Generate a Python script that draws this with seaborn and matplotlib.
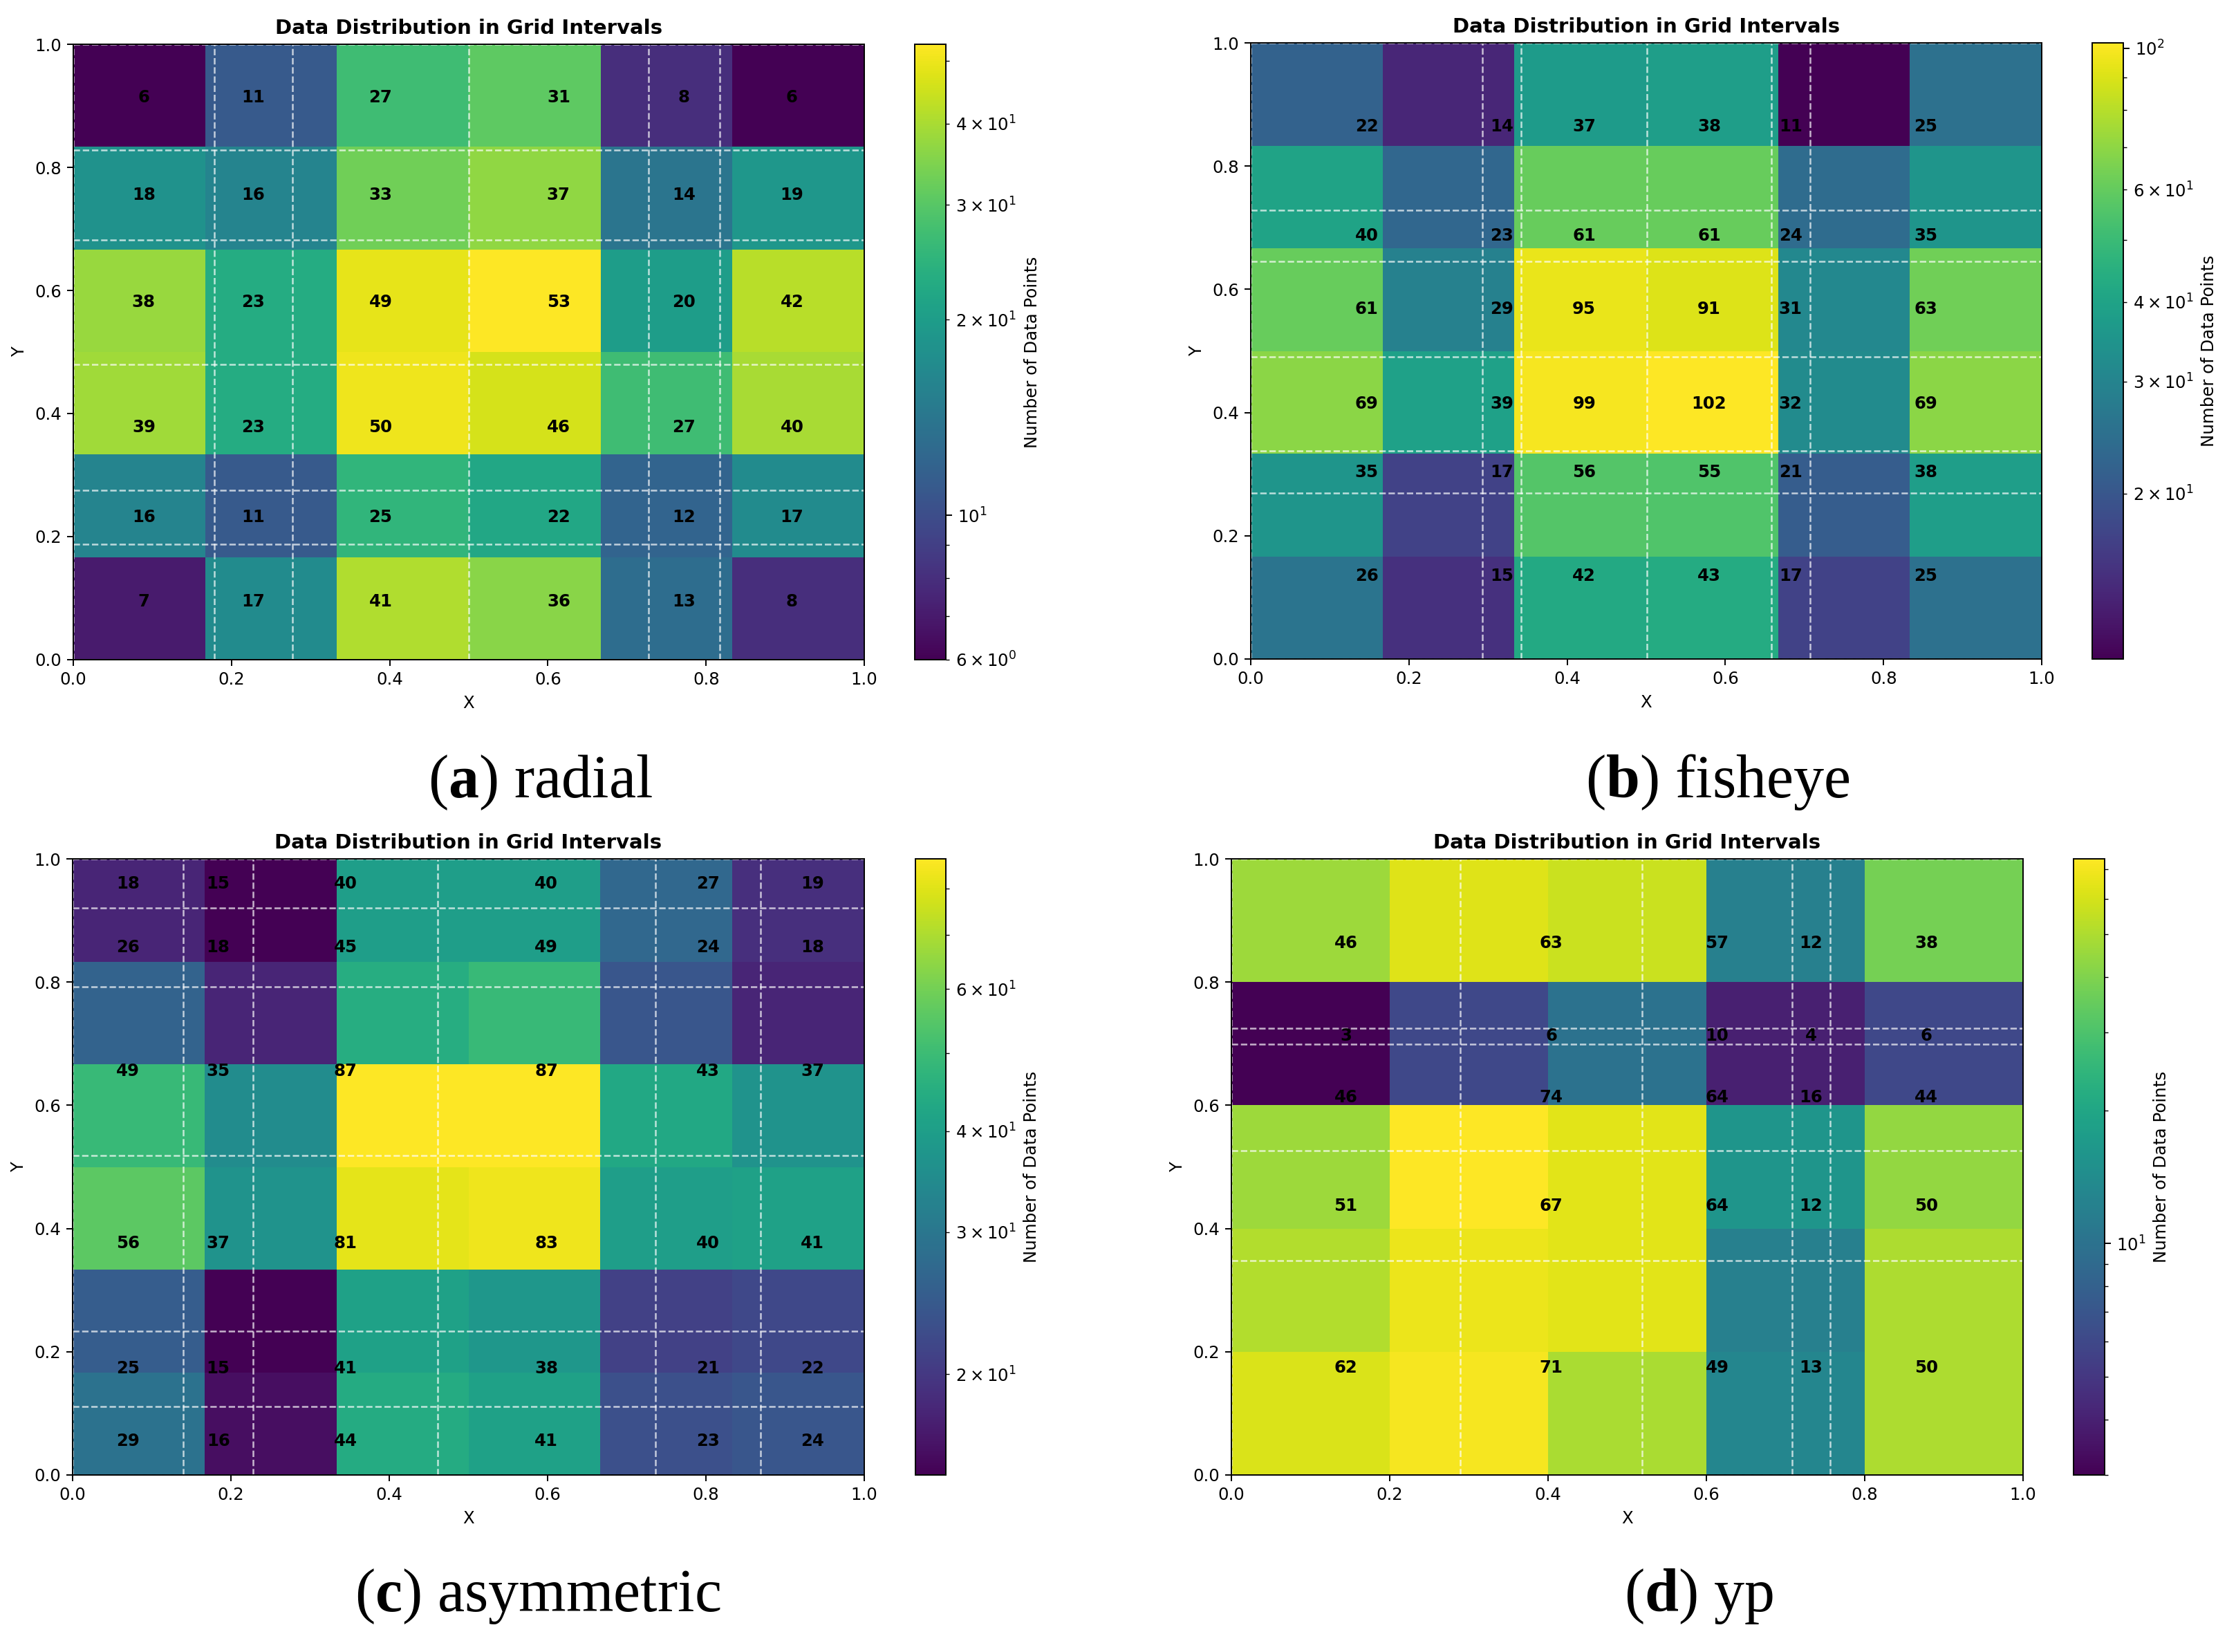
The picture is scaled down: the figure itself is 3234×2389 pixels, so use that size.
import numpy as np
import matplotlib
matplotlib.use('Agg')
import matplotlib.pyplot as plt
from matplotlib.colors import LogNorm
import seaborn as sns

# counts per grid cell, rows listed from top (y near 1) to bottom (y near 0)
radial_counts = [
    [6, 11, 27, 31, 8, 6],
    [18, 16, 33, 37, 14, 19],
    [38, 23, 49, 53, 20, 42],
    [39, 23, 50, 46, 27, 40],
    [16, 11, 25, 22, 12, 17],
    [7, 17, 41, 36, 13, 8],
]
fisheye_counts = [
    [22, 14, 37, 38, 11, 25],
    [40, 23, 61, 61, 24, 35],
    [61, 29, 95, 91, 31, 63],
    [69, 39, 99, 102, 32, 69],
    [35, 17, 56, 55, 21, 38],
    [26, 15, 42, 43, 17, 25],
]
asym_counts = [
    [18, 15, 40, 40, 27, 19],
    [26, 18, 45, 49, 24, 18],
    [49, 35, 87, 87, 43, 37],
    [56, 37, 81, 83, 40, 41],
    [25, 15, 41, 38, 21, 22],
    [29, 16, 44, 41, 23, 24],
]
yp_counts = [
    [46, 63, 57, 12, 38],
    [3, 6, 10, 4, 6],
    [46, 74, 64, 16, 44],
    [51, 67, 64, 12, 50],
    [62, 71, 49, 13, 50],
]

# grid interval boundaries (dashed lines), ascending
radial_x_edges = [0.0, 0.178, 0.277, 0.5, 0.727, 0.817, 1.0]
radial_y_edges = [0.0, 0.188, 0.275, 0.48, 0.682, 0.828, 1.0]
fisheye_x_edges = [0.0, 0.293, 0.342, 0.501, 0.658, 0.707, 1.0]
fisheye_y_edges = [0.0, 0.269, 0.338, 0.490, 0.645, 0.728, 1.0]
asym_x_edges = [0.0, 0.140, 0.228, 0.461, 0.736, 0.869, 1.0]
asym_y_edges = [0.0, 0.111, 0.234, 0.518, 0.792, 0.920, 1.0]
yp_x_edges = [0.0, 0.289, 0.519, 0.708, 0.756, 1.0]
yp_y_edges = [0.0, 0.348, 0.526, 0.699, 0.7255, 1.0]

tick_values = [0.0, 0.2, 0.4, 0.6, 0.8, 1.0]
panel_letters = ['a', 'b', 'c', 'd']
panel_names = ['radial', 'fisheye', 'asymmetric', 'yp']

plt.rcParams.update({
    'font.size': 8.8,
    'axes.titlesize': 10.5,
    'axes.titleweight': 'bold',
    'axes.titlepad': 5.3,
    'axes.labelsize': 8.8,
    'axes.labelpad': 3.5,
    'axes.linewidth': 0.7,
    'xtick.labelsize': 8.8,
    'ytick.labelsize': 8.8,
    'xtick.major.size': 3.1,
    'ytick.major.size': 3.1,
    'xtick.major.width': 0.7,
    'ytick.major.width': 0.7,
    'xtick.minor.size': 1.8,
    'ytick.minor.size': 1.8,
    'xtick.minor.width': 0.5,
    'ytick.minor.width': 0.5,
    'xtick.major.pad': 3.1,
    'ytick.major.pad': 3.1,
    'mathtext.rm': 'Liberation Serif',
    'mathtext.bf': 'Liberation Serif:bold',
    'mathtext.it': 'Liberation Serif:italic',
})

W, H = 3234, 2389
fig = plt.figure(figsize=(W / 200, H / 200), dpi=200)


def px_rect(l, t, r, b):
    return [l / W, 1 - b / H, (r - l) / W, (b - t) / H]


def draw_panel(ax, cax, counts, x_edges, y_edges):
    counts = np.asarray(counts)
    nrows, ncols = counts.shape
    x_edges = np.asarray(x_edges)
    y_edges = np.asarray(y_edges)

    norm = LogNorm(vmin=counts.min(), vmax=counts.max())
    sns.heatmap(counts[::-1], ax=ax, cbar_ax=cax, cmap='viridis', norm=norm,
                xticklabels=False, yticklabels=False,
                cbar_kws={'label': 'Number of Data Points'})
    ax.set_xlim(0, ncols)
    ax.set_ylim(0, nrows)

    # dashed grid interval lines
    for xe in x_edges:
        ax.axvline(xe * ncols, color='white', linestyle='--', linewidth=0.9, alpha=0.7)
    for ye in y_edges:
        ax.axhline(ye * nrows, color='white', linestyle='--', linewidth=0.9, alpha=0.7)

    # counts at the centre of each interval cell
    xc = (x_edges[:-1] + x_edges[1:]) / 2
    yc = ((y_edges[:-1] + y_edges[1:]) / 2)[::-1]
    for i in range(nrows):
        for j in range(ncols):
            ax.text(xc[j] * ncols, yc[i] * nrows, str(counts[i, j]),
                    ha='center', va='center', fontsize=8.8, fontweight='bold', color='black')

    ticks = np.array(tick_values)
    labels = [f'{t:.1f}' for t in tick_values]
    ax.set_xticks(ticks * ncols, labels=labels)
    ax.set_yticks(ticks * nrows, labels=labels)
    ax.tick_params(labelrotation=0)
    for sp in ax.spines.values():
        sp.set_visible(True)
        sp.set_color('black')
        sp.set_linewidth(0.7)

    ax.set_title('Data Distribution in Grid Intervals')
    ax.set_xlabel('X')
    ax.set_ylabel('Y')

    cb = ax.collections[0].colorbar
    cb.outline.set_linewidth(0.7)
    cb.outline.set_edgecolor('black')
    cb.set_label('Number of Data Points', fontsize=8.8)
    cb.ax.tick_params(labelsize=8.8)


panels = [
    (radial_counts, radial_x_edges, radial_y_edges,
     (106, 64, 1250, 954), (1323, 64, 1368, 954), (782, 1153)),
    (fisheye_counts, fisheye_x_edges, fisheye_y_edges,
     (1809, 62, 2953, 953), (3026, 62, 3071, 953), (2484, 1153)),
    (asym_counts, asym_x_edges, asym_y_edges,
     (105, 1242, 1250, 2133), (1324, 1242, 1368, 2133), (778, 2330)),
    (yp_counts, yp_x_edges, yp_y_edges,
     (1781, 1242, 2926, 2133), (2999, 1242, 3044, 2133), (2457, 2330)),
]

for k, (counts, xe, ye, ax_box, cb_box, cap_pos) in enumerate(panels):
    ax = fig.add_axes(px_rect(*ax_box))
    cax = fig.add_axes(px_rect(*cb_box))
    draw_panel(ax, cax, counts, xe, ye)
    fig.text(cap_pos[0] / W, 1 - cap_pos[1] / H,
             r'($\mathbf{' + panel_letters[k] + r'}$) ' + panel_names[k],
             ha='center', va='baseline', fontsize=31.7,
             family='Liberation Serif', math_fontfamily='custom')

fig.savefig('out.png', dpi=200)
